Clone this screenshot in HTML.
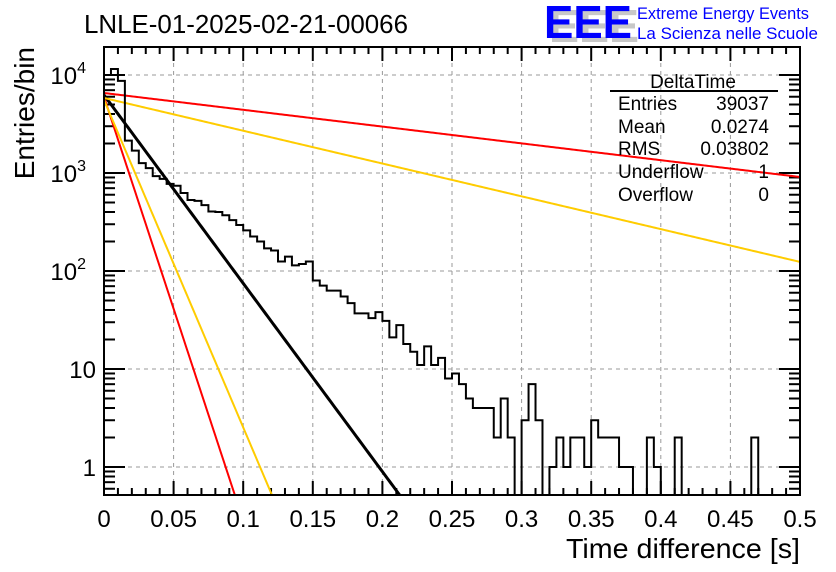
<!DOCTYPE html>
<html><head><meta charset="utf-8"><style>
html,body{margin:0;padding:0;background:#fff;overflow:hidden;width:836px;height:572px;}
svg{display:block;font-family:"Liberation Sans",sans-serif;}
</style></head><body>
<svg id="chart" width="836" height="572" viewBox="0 0 836 572" xmlns="http://www.w3.org/2000/svg">
<rect x="0" y="0" width="836" height="572" fill="#fff"/>
<text x="84" y="33" font-size="26" fill="#000" textLength="324" lengthAdjust="spacingAndGlyphs">LNLE-01-2025-02-21-00066</text>
<g>
<text x="549" y="42" font-size="46" font-weight="bold" fill="#c8c8c8" textLength="90" lengthAdjust="spacingAndGlyphs">EEE</text>
<text x="544" y="38" font-size="46" font-weight="bold" fill="#0000ff" textLength="88" lengthAdjust="spacingAndGlyphs">EEE</text>
<text x="637" y="19" font-size="16.5" fill="#0000ff" textLength="172" lengthAdjust="spacingAndGlyphs">Extreme Energy Events</text>
<text x="637" y="39" font-size="16.5" fill="#0000ff" textLength="181" lengthAdjust="spacingAndGlyphs">La Scienza nelle Scuole</text>
</g>
<g id="grid"></g>
<g id="axes"></g>
<defs><clipPath id="clip"><rect x="104" y="47" width="696" height="448"/></clipPath></defs>
<g id="fits" clip-path="url(#clip)"></g>
<path id="hist" fill="none" stroke="#000" stroke-width="2" clip-path="url(#clip)"/>
<rect x="104" y="47" width="696" height="448" fill="none" stroke="#000" stroke-width="2"/>
<g font-size="19" fill="#000">
<text x="693" y="88" text-anchor="middle">DeltaTime</text>
<line x1="610" y1="91" x2="778" y2="91" stroke="#000" stroke-width="2"/>
<text x="618" y="110">Entries</text><text x="769" y="110" text-anchor="end">39037</text>
<text x="618" y="133">Mean</text><text x="769" y="133" text-anchor="end">0.0274</text>
<text x="618" y="155">RMS</text><text x="769" y="155" text-anchor="end">0.03802</text>
<text x="618" y="178">Underflow</text><text x="769" y="178" text-anchor="end">1</text>
<text x="618" y="201">Overflow</text><text x="769" y="201" text-anchor="end">0</text>
</g>
<text x="800" y="558" font-size="28" text-anchor="end" textLength="234" lengthAdjust="spacingAndGlyphs">Time difference [s]</text>
<text transform="translate(34,47) rotate(-90)" font-size="28" text-anchor="end">Entries/bin</text>
</svg>
<script>
const binCounts=[10000,11500,8700,2140,1690,1260,1120,930,870,775,740,625,530,520,470,405,400,370,330,295,260,225,200,170,162,125,140,114,118,125,80,71,63,63,55,47,37,37,33,38,31,21,28,18,15,11,17,11,13,8,9,7,5,4,4,4,2,5,2,0,3,7,3,0,1,2,1,2,2,1,3,2,2,2,1,1,0,0,2,1,0,0,2,0,0,0,0,0,0,0,0,0,0,2,0,0,0,0,0,0];
const fitAmps=[5970,5560,6250,5830,6550];
const fitTaus=[0.01005,0.013,0.0226,0.1298,0.2534];
const fitColors=['#ff0000','#ffcc00','#000000','#ffcc00','#ff0000'];
const xTicks=[0,0.05,0.1,0.15,0.2,0.25,0.3,0.35,0.4,0.45,0.5];
const xTickLabels=['0','0.05','0.1','0.15','0.2','0.25','0.3','0.35','0.4','0.45','0.5'];
const yDecades=[1,10,100,1000,10000];
const NS='http://www.w3.org/2000/svg';
const X0=104,X1=800,Y0=47,Y1=495,XMIN=0,XMAX=0.5,LOGMIN=Math.log10(0.518),LOGMAX=Math.log10(19300);
const xs=v=>X0+(v-XMIN)/(XMAX-XMIN)*(X1-X0);
const ys=v=>Y1-(Math.log10(Math.max(v,1e-3))-LOGMIN)/(LOGMAX-LOGMIN)*(Y1-Y0);
function mk(tag,attrs,parent){const e=document.createElementNS(NS,tag);for(const k in attrs)e.setAttribute(k,attrs[k]);parent.appendChild(e);return e;}
const grid=document.getElementById('grid'),axes=document.getElementById('axes');
xTicks.forEach((t,i)=>{
  const x=xs(t);
  if(i>0&&i<xTicks.length-1){const g=mk('line',{x1:x,x2:x,y1:Y0,y2:Y1,stroke:'#999','stroke-dasharray':'4,4','stroke-width':1},grid);
  
  }
  const l=mk('text',{x:x,y:527,'font-size':24,'text-anchor':'middle'},axes);l.textContent=xTickLabels[i];
  
  
});
for(let k=0;k<=50;k++){const x=xs(k*0.01);const L=(k%5===0)?14:7;
  mk('line',{x1:x,x2:x,y1:Y1,y2:Y1-L,stroke:'#000','stroke-width':2},axes);
  mk('line',{x1:x,x2:x,y1:Y0,y2:Y0+L,stroke:'#000','stroke-width':2},axes);}
yDecades.forEach((d,i)=>{
  const y=ys(d);
  const g=mk('line',{x1:X0,x2:X1,y1:y,y2:y,stroke:'#999','stroke-dasharray':'4,4','stroke-width':1},grid);
  
  
  const t=mk('text',{x:i<2?96:86,y:y+9,'font-size':24,'text-anchor':'end'},axes);
  
  
  if(i===0)t.textContent='1';else if(i===1)t.textContent='10';
  else{t.textContent='10';const s=mk('tspan',{dy:-11,'font-size':16},t);s.textContent=String(i);}
});
for(let e=-1;e<=4;e++)for(let m=1;m<=9;m++){const v=m*Math.pow(10,e);const y=ys(v);if(y<Y0||y>Y1)continue;
  const L=m===1?21:11;
  mk('line',{x1:X0,x2:X0+L,y1:y,y2:y,stroke:'#000','stroke-width':2},axes);
  mk('line',{x1:X1,x2:X1-L,y1:y,y2:y,stroke:'#000','stroke-width':2},axes);}
const bw=(XMAX-XMIN)/binCounts.length;
let d='M'+xs(0)+','+Y1;
binCounts.forEach((c,i)=>{const y=c>0?ys(c):Y1+5;d+=' L'+xs(i*bw)+','+y+' L'+xs((i+1)*bw)+','+y;});
document.getElementById('hist').setAttribute('d',d);
const fits=document.getElementById('fits');
fitAmps.forEach((A,j)=>{let pts=[];for(let k=0;k<=400;k++){const t=XMAX*k/400;pts.push(xs(t)+','+ys(A*Math.exp(-t/fitTaus[j])));}
  const p=mk('polyline',{points:pts.join(' '),fill:'none',stroke:fitColors[j],'stroke-width':j===2?3:2},fits);
  
  
});
</script>
</body></html>
